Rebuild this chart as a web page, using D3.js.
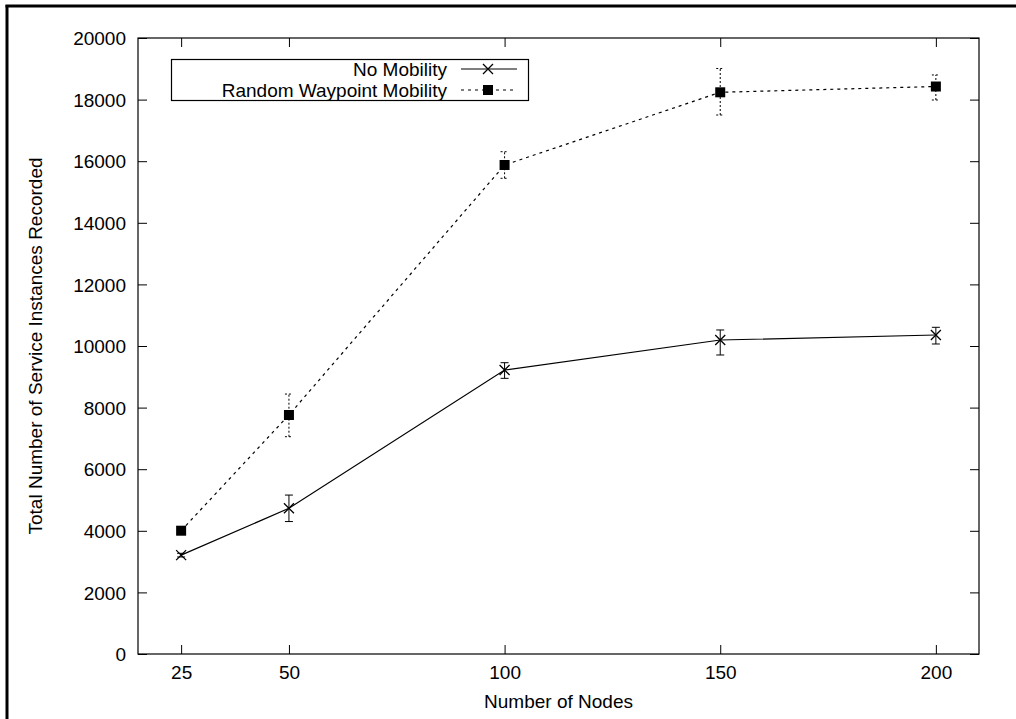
<!DOCTYPE html>
<html>
<head>
<meta charset="utf-8">
<script src="https://cdn.jsdelivr.net/npm/d3@7"></script>
<style>
html,body{margin:0;padding:0;background:#fff;}
svg{display:block;}
text{font-family:"Liberation Sans",Arial,Helvetica,sans-serif;fill:#000;}
</style>
</head>
<body>
<svg id="chart" width="1016" height="719"></svg>
<script>
const nodes = [25, 50, 100, 150, 200];
const noMobility = [3210, 4730, 9220, 10195, 10357];
const noMobilityLow = [3150, 4300, 8950, 9708, 10065];
const noMobilityHigh = [3270, 5160, 9458, 10520, 10607];
const rwpMobility = [4003, 7760, 15877, 18237, 18425];
const rwpLow = [3950, 7055, 15445, 17500, 17987];
const rwpHigh = [4060, 8440, 16308, 19010, 18800];
const yTicks = [0, 2000, 4000, 6000, 8000, 10000, 12000, 14000, 16000, 18000, 20000];
const xTicks = [25, 50, 100, 150, 200];
const seriesNames = ["No Mobility", "Random Waypoint Mobility"];

const svg = d3.select("#chart");
const L = 138, R = 979, T = 38, B = 654;
const x = d3.scaleLinear().domain([15, 210]).range([L, R]);
const y = d3.scaleLinear().domain([0, 20000]).range([B, T]);
const FS = 19;

// outer frame (left and top only visible)
svg.append("line").attr("x1",7).attr("x2",7).attr("y1",5).attr("y2",719).attr("stroke","#000").attr("stroke-width",3);
svg.append("line").attr("x1",5.5).attr("x2",1016).attr("y1",6).attr("y2",6).attr("stroke","#000").attr("stroke-width",3);

// axes with inward ticks
const axL = d3.axisLeft(y).tickValues(yTicks).tickSize(-9).tickPadding(0).tickFormat(d3.format("d"));
const axR = d3.axisRight(y).tickValues(yTicks).tickSize(-9).tickFormat("");
const axB = d3.axisBottom(x).tickValues(xTicks).tickSize(-9).tickFormat(d3.format("d"));
const axT = d3.axisTop(x).tickValues(xTicks).tickSize(-9).tickFormat("");

function styleAxis(g){
  g.select(".domain").remove();
  g.selectAll(".tick line").attr("stroke","#000").attr("stroke-width",1);
  g.selectAll("text").attr("font-size",FS).attr("font-family","Liberation Sans, Arial, sans-serif").attr("fill","#000");
}
const gL = svg.append("g").attr("transform",`translate(${L},0)`).call(axL).call(styleAxis);
gL.selectAll("text").attr("x",-12).attr("dy","0.35em");
svg.append("g").attr("transform",`translate(${R},0)`).call(axR).call(styleAxis);
const gB = svg.append("g").attr("transform",`translate(0,${B})`).call(axB).call(styleAxis);
gB.selectAll("text").attr("y",12).attr("dy","0.71em");
svg.append("g").attr("transform",`translate(0,${T})`).call(axT).call(styleAxis);

// plot frame
svg.append("rect").attr("x",L).attr("y",T).attr("width",R-L).attr("height",B-T)
  .attr("fill","none").attr("stroke","#000").attr("stroke-width",1.2);

// axis titles
svg.append("text").attr("x",(L+R)/2).attr("y",708).attr("text-anchor","middle").attr("font-size",FS).text("Number of Nodes");
svg.append("text").attr("transform",`translate(42,${(T+B)/2}) rotate(-90)`).attr("text-anchor","middle").attr("font-size",FS).text("Total Number of Service Instances Recorded");

const line = d3.line().x(d=>x(d[0])).y(d=>y(d[1]));
const nmData = nodes.map((n,i)=>[n,noMobility[i],noMobilityLow[i],noMobilityHigh[i]]);
const rwData = nodes.map((n,i)=>[n,rwpMobility[i],rwpLow[i],rwpHigh[i]]);

function errorBars(data, dash){
  const g = svg.append("g").attr("stroke","#000").attr("stroke-width",1).attr("fill","none");
  data.forEach(d=>{
    const cx = x(d[0]);
    g.append("line").attr("x1",cx).attr("x2",cx).attr("y1",y(d[2])).attr("y2",y(d[3])).attr("stroke-dasharray",dash);
    g.append("line").attr("x1",cx-4).attr("x2",cx+4).attr("y1",y(d[2])).attr("y2",y(d[2])).attr("stroke-dasharray",dash);
    g.append("line").attr("x1",cx-4).attr("x2",cx+4).attr("y1",y(d[3])).attr("y2",y(d[3])).attr("stroke-dasharray",dash);
  });
}
errorBars(nmData, null);
errorBars(rwData, "2,2");

svg.append("path").datum(nmData).attr("d",line).attr("fill","none").attr("stroke","#000").attr("stroke-width",1.2);
svg.append("path").datum(rwData).attr("d",line).attr("fill","none").attr("stroke","#000").attr("stroke-width",1.2).attr("stroke-dasharray","3,4");

function cross(g, cx, cy){
  const s = 5;
  g.append("path").attr("d",`M${cx-s},${cy-s}L${cx+s},${cy+s}M${cx-s},${cy+s}L${cx+s},${cy-s}`)
    .attr("stroke","#000").attr("stroke-width",1.3).attr("fill","none");
}
function square(g, cx, cy){
  g.append("rect").attr("x",cx-5).attr("y",cy-5).attr("width",10).attr("height",10).attr("fill","#000");
}
const mk = svg.append("g");
nmData.forEach(d=>cross(mk, x(d[0]), y(d[1])));
rwData.forEach(d=>square(mk, x(d[0]), y(d[1])));

// legend
const lg = svg.append("g");
lg.append("rect").attr("x",171.5).attr("y",59.5).attr("width",357).attr("height",41).attr("fill","#fff").attr("stroke","#000").attr("stroke-width",1.2);
const rows = [69, 90];
seriesNames.forEach((name,i)=>{
  lg.append("text").attr("x",447).attr("y",rows[i]).attr("dy","0.35em").attr("text-anchor","end").attr("font-size",FS).text(name);
  lg.append("line").attr("x1",461).attr("x2",517).attr("y1",rows[i]).attr("y2",rows[i]).attr("stroke","#000").attr("stroke-width",1.2)
    .attr("stroke-dasharray", i===0 ? null : "3,4");
  if(i===0) cross(lg, 488, rows[i]); else square(lg, 488, rows[i]);
});
</script>
</body>
</html>
